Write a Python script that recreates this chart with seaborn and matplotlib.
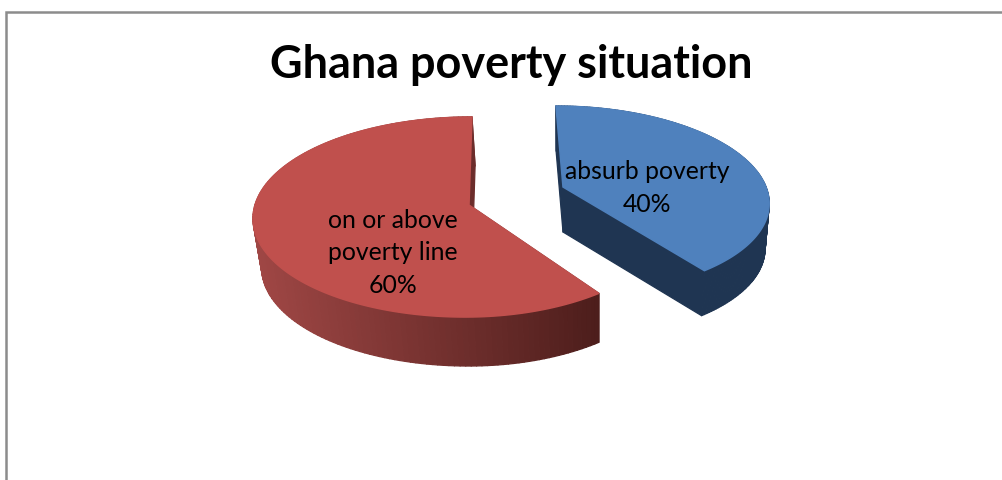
import numpy as np
import matplotlib
matplotlib.use("Agg")
import matplotlib.pyplot as plt
from matplotlib.collections import PolyCollection
import seaborn as sns

# values
categories = ["on or above\npoverty line", "absurb poverty"]
shares = [60, 40]
title = "Ghana poverty situation"

sns.set_theme(style="white")
plt.rcParams["font.family"] = ["Lato", "DejaVu Sans"]

top_colors = sns.color_palette(["#C0504D", "#4F81BD"])
wall_light = ["#A04745", "#1F3552"]
wall_dark = ["#4C1D1B", "#1F3552"]

# perspective of each slice in pixels: apex, half widths, shear, foreshortening, depth
views = [
    dict(x0=469, y0=205, a_left=214, a_right=204, b=98.6, s=3.3, p=0.12, depth=49, shrink=0.975, pivot=129),
    dict(x0=563, y0=187, a_left=203, a_right=203, b=92.0, s=-8.0, p=0.1365, depth=45, shrink=0.98, pivot=0),
]
label_pos = [(393, 253), (647, 188)]


def warp(theta, view):
    ux = np.cos(np.radians(theta))
    uy = np.sin(np.radians(theta))
    a = np.where(ux < 0, view["a_left"], view["a_right"])
    w = 1 + view["p"] * uy
    return (a * ux + view["s"] * uy) / w, -view["b"] * uy / w


fig, ax = plt.subplots(figsize=(10.02, 4.8), dpi=100)
fig.subplots_adjust(0, 0, 1, 1)

# the pie gives the slice angles
wedges, _ = ax.pie(shares, startangle=90, radius=1)
angles = [(w.theta1, w.theta2) for w in wedges]
for w in wedges:
    w.remove()

for i, (t1, t2) in enumerate(angles):
    v = views[i]
    th = np.linspace(t1, t2, 160)
    rim_x, rim_y = warp(th, v)
    # outline of the top face, apex first
    out_x = np.r_[0, rim_x]
    out_y = np.r_[0, rim_y]
    low_x = v["pivot"] + v["shrink"] * (out_x - v["pivot"])
    low_y = out_y + v["depth"]

    n = len(out_x)
    quads = []
    mids = []
    for j in range(n):
        k = (j + 1) % n
        quads.append([
            (v["x0"] + out_x[j], v["y0"] + out_y[j]),
            (v["x0"] + out_x[k], v["y0"] + out_y[k]),
            (v["x0"] + low_x[k], v["y0"] + low_y[k]),
            (v["x0"] + low_x[j], v["y0"] + low_y[j]),
        ])
        mids.append(out_x[j])
    mids = np.array(mids)
    frac = (mids - mids.min()) / (mids.max() - mids.min())
    c1 = np.array(matplotlib.colors.to_rgb(wall_light[i]))
    c2 = np.array(matplotlib.colors.to_rgb(wall_dark[i]))
    cols = [tuple(c1 + (c2 - c1) * f) for f in frac]
    # walls further back go first
    order = np.argsort(np.array(out_y))
    walls = PolyCollection([quads[o] for o in order], facecolors=[cols[o] for o in order],
                           edgecolors=[cols[o] for o in order], linewidths=0.9)
    ax.add_collection(walls)
    # edge in the same colour hides the wall edges behind the top face
    ax.fill(v["x0"] + out_x, v["y0"] + out_y, facecolor=top_colors[i], edgecolor=top_colors[i], lw=1.1)

    ax.text(label_pos[i][0], label_pos[i][1], f"{categories[i]}\n{shares[i]}%", ha="center", va="center",
            fontsize=17.8, color="black", linespacing=1.5)

ax.text(511, 65, title, ha="center", va="center", fontsize=32.4, fontweight="bold", color="black")

ax.set_aspect("auto")
ax.set_xlim(0, 1002)
ax.set_ylim(480, 0)
ax.set_frame_on(False)
ax.set_xticks([])
ax.set_yticks([])

# chart frame, cut off by the picture edge
ax.plot([6.2, 6.2, 1002], [480, 12, 12], color="#8C8C8C", lw=1.8, solid_joinstyle="miter")

fig.savefig("out.png", dpi=100, facecolor="white")
